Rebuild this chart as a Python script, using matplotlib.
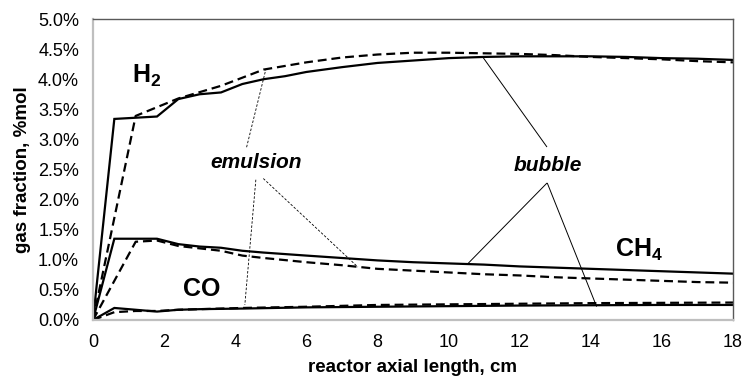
import numpy as np
import matplotlib
matplotlib.use('Agg')
import matplotlib.pyplot as plt
from matplotlib.ticker import FuncFormatter, MultipleLocator

plt.rcParams['font.family'] = ['Liberation Sans', 'DejaVu Sans']
plt.rcParams['mathtext.fontset'] = 'custom'
plt.rcParams['mathtext.rm'] = 'Liberation Sans'
plt.rcParams['mathtext.bf'] = 'Liberation Sans:bold'

# bubble phase (solid) and emulsion phase (dashed), gas fraction in %mol
x_h2_bub = [0, 0.6, 1.8, 2.4, 3.0, 3.6, 4.2, 4.8, 5.4, 6, 7, 8, 9, 10, 11, 12, 13, 14, 15, 16, 17, 18]
h2_bub = [0, 3.34, 3.38, 3.67, 3.75, 3.78, 3.92, 4.00, 4.05, 4.12, 4.20, 4.27, 4.31, 4.35, 4.37, 4.38, 4.38, 4.38, 4.37, 4.35, 4.34, 4.32]
x_h2_emu = [0, 1.2, 2.4, 3.6, 4.8, 6, 7, 8, 9, 10, 11, 12, 13, 14, 15, 16, 17, 18]
h2_emu = [0, 3.39, 3.68, 3.89, 4.16, 4.28, 4.36, 4.41, 4.44, 4.44, 4.43, 4.42, 4.40, 4.37, 4.35, 4.33, 4.30, 4.28]

x_ch4_bub = [0, 0.6, 1.8, 2.4, 3.0, 3.6, 4.2, 4.8, 6, 7, 8, 9, 10, 11, 12, 13, 14, 15, 16, 17, 18]
ch4_bub = [0, 1.35, 1.35, 1.26, 1.22, 1.20, 1.15, 1.12, 1.07, 1.03, 0.99, 0.96, 0.94, 0.92, 0.89, 0.87, 0.85, 0.83, 0.81, 0.79, 0.77]
x_ch4_emu = [0, 1.2, 1.8, 2.4, 3.0, 3.6, 4.2, 4.8, 6, 7, 7.5, 8, 9, 10, 11, 12, 13, 14, 15, 16, 17, 18]
ch4_emu = [0, 1.30, 1.32, 1.23, 1.19, 1.15, 1.07, 1.03, 0.96, 0.91, 0.88, 0.85, 0.82, 0.79, 0.76, 0.74, 0.71, 0.69, 0.67, 0.65, 0.63, 0.62]

x_co_bub = [0, 0.6, 1.8, 2.4, 3.0, 4.2, 6, 8, 10, 12, 14, 16, 18]
co_bub = [0, 0.20, 0.14, 0.17, 0.18, 0.19, 0.21, 0.22, 0.23, 0.24, 0.245, 0.25, 0.25]
x_co_emu = [0, 0.6, 1.2, 1.8, 2.4, 3.0, 4.2, 6, 8, 10, 12, 14, 16, 18]
co_emu = [0, 0.13, 0.15, 0.15, 0.17, 0.18, 0.20, 0.22, 0.25, 0.26, 0.27, 0.28, 0.285, 0.29]

fig = plt.figure(figsize=(7.44, 3.81), dpi=100)
ax = fig.add_axes([93 / 744, 1 - 320 / 381, 640 / 744, 301 / 381])

dash = (0, (4, 2.2))
for xs, ys in [(x_h2_bub, h2_bub), (x_ch4_bub, ch4_bub), (x_co_bub, co_bub)]:
    ax.plot(xs, ys, color='black', lw=1.6, solid_joinstyle='miter')
for xs, ys in [(x_h2_emu, h2_emu), (x_ch4_emu, ch4_emu), (x_co_emu, co_emu)]:
    ax.plot(xs, ys, color='black', lw=1.6, linestyle=dash)

# leader lines
for (x0, y0), (x1, y1) in [((4.32, 2.87), (4.86, 4.16)),
                           ((4.58, 2.33), (4.27, 0.25)),
                           ((4.79, 2.35), (7.45, 0.88))]:
    ax.plot([x0, x1], [y0, y1], color='black', lw=0.6, linestyle=(0, (3, 2)))
for (x0, y0), (x1, y1) in [((12.76, 2.88), (10.96, 4.37)),
                           ((12.76, 2.27), (10.55, 0.94)),
                           ((12.78, 2.27), (14.16, 0.23))]:
    ax.plot([x0, x1], [y0, y1], color='black', lw=0.7)

ax.text(1.52, 4.05, r'$\mathbf{H_2}$', fontsize=18, ha='center', va='center')
ax.text(3.07, 0.52, 'CO', fontsize=18, fontweight='bold', ha='center', va='center')
ax.text(15.36, 1.17, r'$\mathbf{CH_4}$', fontsize=18, ha='center', va='center')
ax.text(4.60, 2.61, 'emulsion', fontsize=15, fontweight='bold', fontstyle='italic', ha='center', va='center')
ax.text(12.8, 2.57, 'bubble', fontsize=15, fontweight='bold', fontstyle='italic', ha='center', va='center')

ax.set_xlim(0, 18)
ax.set_ylim(0, 5.0)
ax.xaxis.set_major_locator(MultipleLocator(2))
ax.yaxis.set_major_locator(MultipleLocator(0.5))
ax.yaxis.set_major_formatter(FuncFormatter(lambda v, p: f'{v:.1f}%'))
ax.tick_params(length=0, labelsize=13, pad=10)

for side in ['left', 'bottom']:
    ax.spines[side].set_color('#bfbfbf')
    ax.spines[side].set_linewidth(1.6)
for side in ['top', 'right']:
    ax.spines[side].set_color('#595959')
    ax.spines[side].set_linewidth(1.0)

ax.set_xlabel('reactor axial length, cm', fontsize=13.5, fontweight='bold', va='center')
ax.set_ylabel('gas fraction, %mol', fontsize=13.5, fontweight='bold', va='center')
ax.xaxis.set_label_coords(0.5, (320 - 368) / 301)
ax.yaxis.set_label_coords((23 - 93) / 640, 0.5)

fig.savefig('out.png', dpi=100)
